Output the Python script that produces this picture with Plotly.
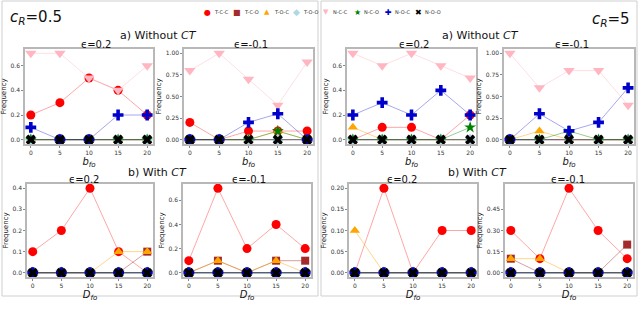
import plotly.graph_objects as go

# ---------------- data ----------------
b_values = [0, 5, 10, 15, 20]
series = ["T-C-C", "T-C-O", "T-O-C", "T-O-O", "N-C-C", "N-C-O", "N-O-C", "N-O-O"]
Z = [0, 0, 0, 0, 0]

# c_R = 0.5, a) Without CT
cr05_without_e02 = {
    "T-C-C": [0.2, 0.3, 0.5, 0.4, 0.2],
    "N-C-C": [0.7, 0.7, 0.5, 0.4, 0.6],
    "N-O-C": [0.1, 0.0, 0.0, 0.2, 0.2],
}
cr05_without_em01 = {
    "T-C-C": [0.2, 0.0, 0.1, 0.1, 0.1],
    "T-O-C": [0.0, 0.0, 0.0, 0.1, 0.0],
    "N-C-C": [0.8, 1.0, 0.7, 0.4, 0.9],
    "N-C-O": [0.0, 0.0, 0.0, 0.1, 0.0],
    "N-O-C": [0.0, 0.0, 0.2, 0.3, 0.0],
}
# c_R = 5, a) Without CT
cr5_without_e02 = {
    "T-C-C": [0.0, 0.1, 0.1, 0.0, 0.2],
    "T-O-C": [0.1, 0.0, 0.0, 0.0, 0.0],
    "N-C-C": [0.7, 0.6, 0.7, 0.6, 0.5],
    "N-C-O": [0.0, 0.0, 0.0, 0.0, 0.1],
    "N-O-C": [0.2, 0.3, 0.2, 0.4, 0.2],
}
cr5_without_em01 = {
    "T-O-C": [0.0, 0.1, 0.0, 0.0, 0.0],
    "N-C-C": [1.0, 0.6, 0.8, 0.8, 0.4],
    "N-C-O": [0.0, 0.0, 0.1, 0.0, 0.0],
    "N-O-C": [0.0, 0.3, 0.1, 0.2, 0.6],
}
# c_R = 0.5, b) With CT
cr05_with_e02 = {
    "T-C-C": [0.1, 0.2, 0.4, 0.1, 0.0],
    "T-C-O": [0.0, 0.0, 0.0, 0.0, 0.1],
    "T-O-C": [0.0, 0.0, 0.0, 0.1, 0.1],
}
cr05_with_em01 = {
    "T-C-C": [0.1, 0.7, 0.2, 0.4, 0.2],
    "T-C-O": [0.0, 0.1, 0.0, 0.1, 0.1],
    "T-O-C": [0.0, 0.1, 0.0, 0.1, 0.0],
}
# c_R = 5, b) With CT
cr5_with_e02 = {
    "T-C-C": [0.0, 0.2, 0.0, 0.1, 0.1],
    "T-O-C": [0.1, 0.0, 0.0, 0.0, 0.0],
}
cr5_with_em01 = {
    "T-C-C": [0.3, 0.1, 0.6, 0.3, 0.1],
    "T-C-O": [0.1, 0.0, 0.0, 0.0, 0.2],
    "T-O-C": [0.1, 0.1, 0.0, 0.0, 0.0],
}

y_ticks = {
    1: [0.0, 0.2, 0.4, 0.6], 2: [0.0, 0.25, 0.5, 0.75, 1.0],
    3: [0.0, 0.2, 0.4, 0.6], 4: [0.0, 0.25, 0.5, 0.75, 1.0],
    5: [0.0, 0.1, 0.2, 0.3, 0.4], 6: [0.0, 0.2, 0.4, 0.6],
    7: [0.0, 0.05, 0.1, 0.15, 0.2], 8: [0.0, 0.15, 0.3, 0.45],
}
y_max = {1: 0.7, 2: 1.0, 3: 0.7, 4: 1.0, 5: 0.4, 6: 0.7, 7: 0.2, 8: 0.6}
y_fmt = {1: ".1f", 2: ".2f", 3: ".1f", 4: ".2f", 5: ".1f", 6: ".1f", 7: ".2f", 8: ".2f"}
panels = [cr05_without_e02, cr05_without_em01, cr5_without_e02, cr5_without_em01,
          cr05_with_e02, cr05_with_em01, cr5_with_e02, cr5_with_em01]

# ---------------- styles ----------------
W, H = 640, 313
def px(x):
    return x / W
def py(y):
    return 1 - y / H

style = {
    "T-C-C": dict(symbol="circle", color="#ff0000", line="rgba(255,0,0,0.35)", size=9, glyph="●", gs=8),
    "T-C-O": dict(symbol="square", color="#a52a2a", line="rgba(165,42,42,0.45)", size=8, glyph="■", gs=8),
    "T-O-C": dict(symbol="triangle-up", color="#ffa500", line="rgba(255,165,0,0.45)", size=9, glyph="▲", gs=7),
    "T-O-O": dict(symbol="diamond", color="#add8e6", line="rgba(173,216,230,0.6)", size=9, glyph="◆", gs=9),
    "N-C-C": dict(symbol="triangle-down", color="#ffb6c1", line="rgba(255,182,193,0.45)", size=10, glyph="▼", gs=7),
    "N-C-O": dict(symbol="star", color="#008000", line="rgba(0,128,0,0.4)", size=9, glyph="★", gs=8),
    "N-O-C": dict(symbol="cross", color="#0000cd", line="rgba(0,0,205,0.35)", size=9, glyph="✚", gs=8),
    "N-O-O": dict(symbol="x", color="#000000", line="rgba(0,0,0,0.45)", size=9, glyph="✖", gs=8),
}

top_cols = [(25, 153), (184, 313), (347, 476), (504, 634)]
bot_cols = [(27, 153), (183, 311), (349, 477), (505, 633)]
top_rows = (49, 144)
bot_rows = (184, 277)

fig = go.Figure()

for i, pdata in enumerate(panels, start=1):
    ax = "" if i == 1 else str(i)
    for s in series:
        st = style[s]
        fig.add_trace(go.Scatter(
            x=b_values, y=pdata.get(s, Z), name=s, mode="lines+markers",
            xaxis="x" + ax, yaxis="y" + ax, showlegend=False,
            line=dict(color=st["line"], width=1),
            marker=dict(symbol=st["symbol"], color=st["color"], size=st["size"],
                        line=dict(width=0)),
            cliponaxis=False,
        ))

axis_common = dict(showline=True, mirror=True, linecolor="#b8b8b8", linewidth=1.5,
                   showgrid=False, zeroline=False, ticks="outside", ticklen=2,
                   tickcolor="#888", tickfont=dict(size=6, color="#333",
                                                   family="DejaVu Sans"),
                   automargin=False)

layout = dict(width=W, height=H, margin=dict(l=0, r=0, t=0, b=0),
              plot_bgcolor="white", paper_bgcolor="white", showlegend=False,
              font=dict(family="DejaVu Sans", color="#111"))
for i in range(1, 9):
    ax = "" if i == 1 else str(i)
    if i <= 4:
        c = top_cols[i - 1]; r = top_rows
        xlab = "<i>b</i><sub><i>fo</i></sub>"
    else:
        c = bot_cols[i - 5]; r = bot_rows
        xlab = "<i>D</i><sub><i>fo</i></sub>"
    pad = y_max[i] * 0.05
    layout["xaxis" + ax] = dict(axis_common, domain=[px(c[0]), px(c[1])],
                                range=[-1, 21], tickvals=b_values,
                                anchor="y" + ax,
                                title=dict(text=xlab, font=dict(size=10), standoff=0))
    layout["yaxis" + ax] = dict(axis_common, domain=[py(r[1]), py(r[0])],
                                range=[-pad, y_max[i] + pad], tickvals=y_ticks[i],
                                tickformat=y_fmt[i], anchor="x" + ax,
                                title=dict(text="Frequency", font=dict(size=7), standoff=3))

ann = []
def add_text(text, x, y, size, xanchor="center", color="#111"):
    ann.append(dict(text=text, x=px(x), y=py(y), xref="paper", yref="paper",
                    xanchor=xanchor, yanchor="middle", showarrow=False,
                    font=dict(size=size, color=color)))

add_text("<i>c</i><sub><i>R</i></sub>=0.5", 8, 17, 15, "left")
add_text("<i>c</i><sub><i>R</i></sub>=5", 632, 20, 15, "right")
add_text("a) Without <i>CT</i>", 158, 36, 11)
add_text("a) Without <i>CT</i>", 480, 36, 11)
add_text("b) With <i>CT</i>", 157, 172, 11)
add_text("b) With <i>CT</i>", 477, 172, 11)
for (xc, yc, t) in [(96, 44, "ϵ=0.2"), (251, 44, "ϵ=-0.1"), (414, 44, "ϵ=0.2"),
                    (572, 44, "ϵ=-0.1"), (84, 179, "ϵ=0.2"), (249, 179, "ϵ=-0.1"),
                    (402, 179, "ϵ=0.2"), (568, 179, "ϵ=-0.1")]:
    add_text(t, xc, yc, 10)

# legend row (symbol + label)
leg_x = [207, 237, 267, 296, 326, 357, 388, 418]
for k, s in enumerate(series):
    st = style[s]
    add_text(st["glyph"], leg_x[k], 12, st["gs"], "center", st["color"])
    add_text(s, leg_x[k] + 5, 12, 5, "left", "#333")
layout["annotations"] = ann

layout["shapes"] = [
    dict(type="rect", xref="paper", yref="paper", x0=px(2), x1=px(318), y0=py(296), y1=py(1),
         line=dict(color="#cfcfcf", width=1)),
    dict(type="rect", xref="paper", yref="paper", x0=px(321), x1=px(637), y0=py(296), y1=py(1),
         line=dict(color="#cfcfcf", width=1)),
]

fig.update_layout(**layout)
fig.write_html("out.html", config={"displayModeBar": False},
               post_script="document.body.style.margin='0';")
